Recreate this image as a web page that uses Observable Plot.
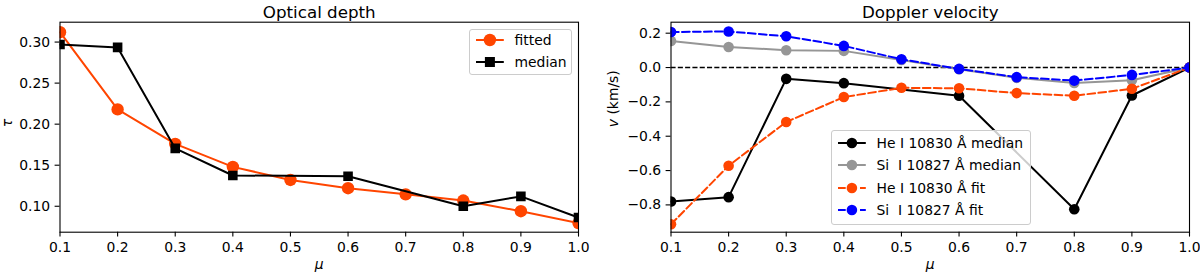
<!DOCTYPE html>
<html><head><meta charset="utf-8">
<script src="https://cdn.jsdelivr.net/npm/d3@7"></script>
<script src="https://cdn.jsdelivr.net/npm/@observablehq/plot@0.6"></script>
<style>
body{margin:0;background:#fff;}
#wrap{position:relative;width:1200px;height:274px;font-family:"DejaVu Sans",sans-serif;overflow:hidden;}
.panel{position:absolute;top:0;}
.legend{position:absolute;background:rgba(255,255,255,0.8);border:1px solid #cccccc;border-radius:3px;box-sizing:border-box;font-size:13.9px;color:#000;}
.row{position:absolute;left:5.6px;height:16px;display:flex;align-items:center;white-space:pre;}
.row svg{display:block;overflow:visible;}
.row span{margin-left:11.1px;line-height:16px;}
</style></head>
<body><div id="wrap"></div>
<script>
// ---- data ----
const mu = [0.1,0.2,0.3,0.4,0.5,0.6,0.7,0.8,0.9,1.0];
const muMedian = [0.1,0.2,0.3,0.4,0.6,0.8,0.9,1.0];
const tauFitted = [0.312,0.218,0.176,0.148,0.132,0.122,0.1145,0.107,0.094,0.0795];
const tauMedian = [0.297,0.2935,0.1705,0.1375,0.1365,0.100,0.112,0.0862];
const vHeMedian = [-0.78,-0.755,-0.066,-0.091,-0.164,-0.825,-0.163,0.0];
const vSiMedian = [0.155,0.12,0.101,0.097,0.044,-0.01,-0.06,-0.09,-0.074,0.0];
const vHeFit = [-0.913,-0.572,-0.317,-0.172,-0.118,-0.121,-0.149,-0.164,-0.124,0.0];
const vSiFit = [0.207,0.21,0.182,0.126,0.048,-0.008,-0.056,-0.076,-0.043,0.0];
const tauTicks = [0.10,0.15,0.20,0.25,0.30];
const vTicks = [0.2,0.0,-0.2,-0.4,-0.6,-0.8];
const titles = ["Optical depth","Doppler velocity"];
const yLabels = ["τ","v (km/s)"];
const legendLeft = ["fitted","median"];
const legendRight = ["He I 10830 Å median","Si  I 10827 Å median","He I 10830 Å fit","Si  I 10827 Å fit"];

const ORANGE = "#ff4500", GRAY = "#969696", BLUE = "#0000ff";
const zip = (xs, ys) => xs.map((x,i)=>({x, y: ys[i]}));
const common = {
  width: 600, height: 274, marginTop: 21.7, marginBottom: 42.3,
  style: {fontFamily: "DejaVu Sans", fontSize: "13.9px", color: "black", background: "transparent", overflow: "visible"}
};
const xAxis = Plot.axisX({ticks: mu, tickFormat: d3.format(".1f"), tickSize: 4.9, tickPadding: 4.9, label: null, strokeWidth: 1.1, fontSize: 13.9});
const dashed = "7.7,3.3";

const left = Plot.plot({
  ...common, marginLeft: 59.5, marginRight: 22,
  x: {domain: [0.1, 1.0]},
  y: {domain: [0.0684, 0.3242]},
  marks: [
    xAxis,
    Plot.axisY({ticks: tauTicks, tickFormat: d3.format(".2f"), tickSize: 4.9, tickPadding: 4.9, label: null, strokeWidth: 1.1, fontSize: 13.9}),
    Plot.line(zip(mu, tauFitted), {x: "x", y: "y", stroke: ORANGE, strokeWidth: 2, clip: true}),
    Plot.dot(zip(mu, tauFitted), {x: "x", y: "y", fill: ORANGE, r: 6.2, clip: true}),
    Plot.line(zip(muMedian, tauMedian), {x: "x", y: "y", stroke: "black", strokeWidth: 2, clip: true}),
    Plot.dot(zip(muMedian, tauMedian), {x: "x", y: "y", fill: "black", symbol: "square", r: 5.4, clip: true}),
    Plot.frame({stroke: "black", strokeWidth: 1.1}),
    Plot.text([titles[0]], {frameAnchor: "top", dy: -4, fontSize: 16.7, lineAnchor: "bottom"}),
    Plot.text(["μ"], {frameAnchor: "bottom", dy: 27, fontStyle: "italic", lineAnchor: "top", fontSize: 13.9}),
    Plot.text([yLabels[0]], {frameAnchor: "left", dx: -52, rotate: -90, fontStyle: "italic", fontSize: 13.9})
  ]
});

const right = Plot.plot({
  ...common, marginLeft: 70.5, marginRight: 11,
  x: {domain: [0.1, 1.0]},
  y: {domain: [-0.959, 0.264]},
  marks: [
    xAxis,
    Plot.axisY({ticks: vTicks, tickFormat: d3.format(".1f"), tickSize: 4.9, tickPadding: 4.9, label: null, strokeWidth: 1.1, fontSize: 13.9}),
    Plot.ruleY([0], {stroke: "black", strokeWidth: 1.4, strokeDasharray: "5.1,2.2"}),
    Plot.line(zip(muMedian, vHeMedian), {x: "x", y: "y", stroke: "black", strokeWidth: 2, clip: true}),
    Plot.dot(zip(muMedian, vHeMedian), {x: "x", y: "y", fill: "black", r: 5.3, clip: true}),
    Plot.line(zip(mu, vSiMedian), {x: "x", y: "y", stroke: GRAY, strokeWidth: 2, clip: true}),
    Plot.dot(zip(mu, vSiMedian), {x: "x", y: "y", fill: GRAY, r: 5.3, clip: true}),
    Plot.line(zip(mu, vHeFit), {x: "x", y: "y", stroke: ORANGE, strokeWidth: 2, strokeDasharray: dashed, clip: true}),
    Plot.dot(zip(mu, vHeFit), {x: "x", y: "y", fill: ORANGE, r: 5.3, clip: true}),
    Plot.line(zip(mu, vSiFit), {x: "x", y: "y", stroke: BLUE, strokeWidth: 2, strokeDasharray: dashed, clip: true}),
    Plot.dot(zip(mu, vSiFit), {x: "x", y: "y", fill: BLUE, r: 5.3, clip: true}),
    Plot.frame({stroke: "black", strokeWidth: 1.1}),
    Plot.text([titles[1]], {frameAnchor: "top", dy: -4, fontSize: 16.7, lineAnchor: "bottom"}),
    Plot.text(["μ"], {frameAnchor: "bottom", dy: 27, fontStyle: "italic", lineAnchor: "top", fontSize: 13.9}),
    Plot.text([yLabels[1]], {frameAnchor: "left", dx: -57, rotate: -90, fontSize: 13.9})
  ]
});

// italic "v" in the velocity axis label (mathtext style)
d3.select(right).selectAll("text").filter(function(){ return this.textContent === yLabels[1]; }).each(function(){
  const t = d3.select(this);
  t.text(null);
  t.append("tspan").attr("font-style", "italic").text("v");
  t.append("tspan").text(" (km/s)");
});

const wrap = document.getElementById("wrap");
left.classList.add("panel"); left.style.left = "0px";
right.classList.add("panel"); right.style.left = "600px";
wrap.appendChild(left); wrap.appendChild(right);

function legend(box, entries) {
  const div = document.createElement("div");
  div.className = "legend";
  Object.assign(div.style, {left: box.left + "px", top: box.top + "px", width: box.width + "px", height: box.height + "px"});
  entries.forEach((e, i) => {
    const row = document.createElement("div");
    row.className = "row";
    row.style.top = (box.rows[i] - box.top - 1 - 8) + "px";
    const svg = d3.create("svg").attr("width", 27.8).attr("height", 16);
    svg.append("line").attr("x1", 0).attr("x2", 27.8).attr("y1", 8).attr("y2", 8)
      .attr("stroke", e.color).attr("stroke-width", 2).attr("stroke-dasharray", e.dash || null);
    if (e.symbol === "square") svg.append("rect").attr("x", 13.9 - 5).attr("y", 3).attr("width", 10).attr("height", 10).attr("fill", e.color);
    else svg.append("circle").attr("cx", 13.9).attr("cy", 8).attr("r", e.r).attr("fill", e.color);
    row.appendChild(svg.node());
    const span = document.createElement("span");
    span.textContent = e.label;
    row.appendChild(span);
    div.appendChild(row);
  });
  wrap.appendChild(div);
}
legend({left: 469, top: 28.5, width: 102.5, height: 46, rows: [40, 61.7]}, [
  {label: legendLeft[0], color: ORANGE, r: 6.2},
  {label: legendLeft[1], color: "black", symbol: "square"}
]);
legend({left: 831, top: 129.5, width: 200, height: 95.5, rows: [143, 165.3, 188, 210.3]}, [
  {label: legendRight[0], color: "black", r: 5.3},
  {label: legendRight[1], color: GRAY, r: 5.3},
  {label: legendRight[2], color: ORANGE, r: 5.3, dash: dashed},
  {label: legendRight[3], color: BLUE, r: 5.3, dash: dashed}
]);
</script></body></html>
